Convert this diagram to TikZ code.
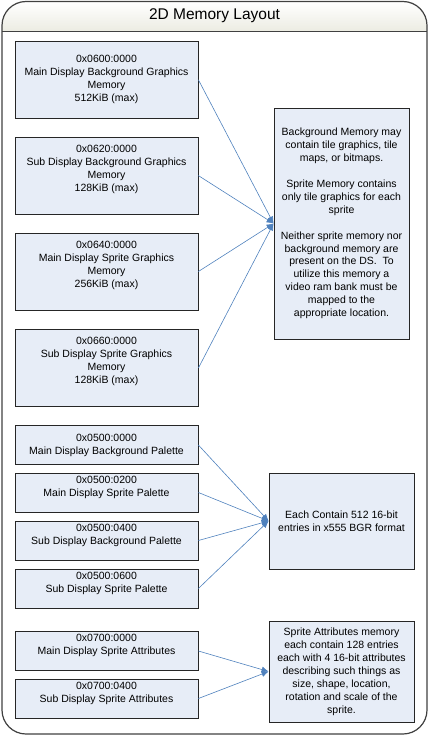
\documentclass[tikz,border=0pt]{standalone}
\usepackage{fontspec}
\setmainfont{Liberation Sans}
\usetikzlibrary{arrows.meta}
\definecolor{boxfill}{HTML}{E7EDF7}
\definecolor{linkblue}{HTML}{4F81BD}
\definecolor{hdrshade}{HTML}{ECECE2}
\definecolor{frame}{HTML}{404040}

\begin{document}
\begin{tikzpicture}[x=1pt,y=-1pt,
  every node/.style={font=\fontsize{10.5}{13}\selectfont,align=center,inner sep=1pt},
  memboxa/.style={draw=black!85,fill=boxfill,line width=0.8pt,minimum width=183pt,minimum height=77pt},
  memboxb/.style={memboxa,text height=53.2pt,text depth=21.8pt},
  palboxa/.style={memboxa,minimum height=39pt},
  palboxb/.style={palboxa,text height=22pt,text depth=15pt},
  notebox/.style={draw=black!85,fill=boxfill,line width=0.8pt,minimum width=145pt},
  link/.style={draw=linkblue,line width=0.6pt,-{Latex[length=7pt,width=6pt]}}]
\useasboundingbox (0,0) rectangle (429,736);
% frame and title
\shade[top color=white,bottom color=hdrshade,rounded corners=24pt]
  (2,31) -- (2,1.5) -- (427,1.5) -- (427,31);
\draw[frame,line width=1.2pt,rounded corners=24pt] (2,1.5) rectangle (427,734);
\draw[frame,line width=0.8pt] (2,31) -- (427,31);
\node (t0) at (214.5,15.5) {\fontsize{15.5}{18}\selectfont 2D Memory Layout};
% graphics memory
\node[memboxa] (n0) at (106.5,79.8) {0x0600:0000\\Main Display Background Graphics\\Memory\\512KiB (max)};
\node[memboxb] (n1) at (106.5,175.6) {0x0620:0000\\Sub Display Background Graphics\\Memory\\128KiB (max)};
\node[memboxb] (n2) at (106.5,271.5) {0x0640:0000\\Main Display Sprite Graphics\\Memory\\256KiB (max)};
\node[memboxb] (n3) at (106.5,368) {0x0660:0000\\Sub Display Sprite Graphics\\Memory\\128KiB (max)};
\node[notebox,minimum width=135pt,minimum height=231pt,font=\fontsize{10.5}{12.9}\selectfont] (r0) at (341.5,223.5)
  {Background Memory may\\contain tile graphics, tile\\maps, or bitmaps.\\[12.9pt]Sprite Memory contains\\only tile graphics for each\\sprite\\[12.9pt]Neither sprite memory nor\\background memory are\\present on the DS.\ \ To\\utilize this memory a\\video ram bank must be\\mapped to the\\appropriate location.};
% palettes
\node[palboxa] (n4) at (106.5,445) {0x0500:0000\\Main Display Background Palette};
\node[palboxb] (n5) at (106.5,492.5) {0x0500:0200\\Main Display Sprite Palette};
\node[palboxb] (n6) at (106.5,540.5) {0x0500:0400\\Sub Display Background Palette};
\node[palboxb] (n7) at (106.5,588.5) {0x0500:0600\\Sub Display Sprite Palette};
\node[notebox,minimum height=96pt] (r1) at (341.5,521) {Each Contain 512 16-bit\\entries in x555 BGR format};
% sprite attributes
\node[palboxb] (n8) at (106.5,651) {0x0700:0000\\Main Display Sprite Attributes};
\node[palboxb] (n9) at (106.5,698.5) {0x0700:0400\\Sub Display Sprite Attributes};
\node[notebox,minimum height=101pt] (r2) at (341.5,671.5) {Sprite Attributes memory\\each contain 128 entries\\each with 4 16-bit attributes\\describing such things as\\size, shape, location,\\rotation and scale of the\\sprite.};
% links
\foreach \i in {0,...,3} \draw[link] (n\i.east) -- (r0.west);
\foreach \i in {4,...,7} \draw[link] (n\i.east) -- (r1.west);
\foreach \i in {8,9} \draw[link] (n\i.east) -- (r2.west);
\end{tikzpicture}
\end{document}
